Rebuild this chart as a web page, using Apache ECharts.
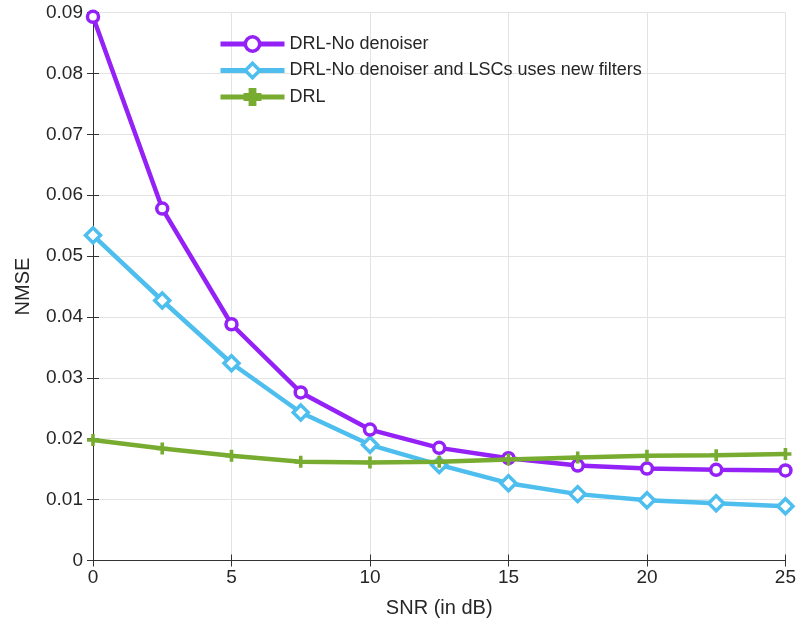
<!DOCTYPE html>
<html>
<head>
<meta charset="utf-8">
<script src="https://cdn.jsdelivr.net/npm/echarts@6/dist/echarts.min.js"></script>
<style>html,body{margin:0;padding:0;background:#fff}#c{width:799px;height:631px}</style>
</head>
<body>
<div id="c"></div>
<script>
const snr = [0, 2.5, 5, 7.5, 10, 12.5, 15, 17.5, 20, 22.5, 25];
const drlNoDenoiser = [0.0893, 0.0578, 0.0388, 0.0276, 0.0215, 0.0185, 0.0168, 0.0156, 0.0151, 0.0149, 0.0148];
const drlNoDenoiserNewFilters = [0.0534, 0.0427, 0.0324, 0.0243, 0.0190, 0.0157, 0.0127, 0.0109, 0.0099, 0.0094, 0.0089];
const drl = [0.0198, 0.0184, 0.0172, 0.0162, 0.0161, 0.0162, 0.0166, 0.0169, 0.0172, 0.0173, 0.0175];
const seriesNames = ['DRL-No denoiser', 'DRL-No denoiser and LSCs uses new filters', 'DRL'];

const pair = (ys) => snr.map((x, i) => [x, ys[i]]);
const font = 'Liberation Sans, Arial, sans-serif';
const txt = '#262626';
const plus = 'path://M3.5,0H6.5V3.5H10V6.5H6.5V10H3.5V6.5H0V3.5H3.5Z';

const chart = echarts.init(document.getElementById('c'));
chart.setOption({
  animation: false,
  backgroundColor: '#fff',
  grid: { left: 93, right: 12, top: 12.5, bottom: 70.5, containLabel: false },
  legend: {
    left: 213, top: 30, orient: 'vertical', itemWidth: 64, itemHeight: 18, itemGap: 8.5,
    textStyle: { fontFamily: font, fontSize: 18, color: txt },
    lineStyle: { width: 5 },
    itemStyle: { borderWidth: 3.5 },
    data: seriesNames
  },
  xAxis: [{
    type: 'value', min: 0, max: 25, interval: 5,
    name: 'SNR (in dB)', nameLocation: 'middle', nameGap: 38,
    nameTextStyle: { fontFamily: font, fontSize: 20, color: txt },
    axisLine: { lineStyle: { color: '#333', width: 1 } },
    axisTick: { inside: true, length: 6, lineStyle: { color: '#333' } },
    axisLabel: { fontFamily: font, fontSize: 19, color: txt, margin: 8 },
    splitLine: { show: true, lineStyle: { color: '#e3e3e3', width: 1 } }
  }, {
    type: 'value', min: 0, max: 25, interval: 5, position: 'top',
    axisLine: { show: true, lineStyle: { color: '#333', width: 1 } },
    axisTick: { show: true, inside: true, length: 6, lineStyle: { color: '#333' } },
    axisLabel: { show: false }, splitLine: { show: false }
  }],
  yAxis: [{
    type: 'value', min: 0, max: 0.09, interval: 0.01,
    name: 'NMSE', nameLocation: 'middle', nameGap: 60,
    nameTextStyle: { fontFamily: font, fontSize: 20, color: txt },
    axisLine: { show: true, lineStyle: { color: '#333', width: 1 } },
    axisTick: { show: true, inside: true, length: 6, lineStyle: { color: '#333' } },
    axisLabel: { fontFamily: font, fontSize: 19, color: txt, margin: 10,
      formatter: v => (Math.round(v * 100) / 100).toString() },
    splitLine: { show: true, lineStyle: { color: '#e3e3e3', width: 1 } }
  }, {
    type: 'value', min: 0, max: 0.09, interval: 0.01, position: 'right',
    axisLine: { show: true, lineStyle: { color: '#333', width: 1 } },
    axisTick: { show: true, inside: true, length: 6, lineStyle: { color: '#333' } },
    axisLabel: { show: false }, splitLine: { show: false }
  }],
  series: [{
    name: seriesNames[0], type: 'line', data: pair(drlNoDenoiser),
    symbol: 'circle', symbolSize: 11, showAllSymbol: true,
    lineStyle: { color: '#9421F5', width: 4.5 },
    itemStyle: { color: '#ffffff', borderColor: '#9421F5', borderWidth: 3.5 },
    z: 3
  }, {
    name: seriesNames[1], type: 'line', data: pair(drlNoDenoiserNewFilters),
    symbol: 'diamond', symbolSize: 15, showAllSymbol: true,
    lineStyle: { color: '#4DBEEE', width: 4.5 },
    itemStyle: { color: '#ffffff', borderColor: '#4DBEEE', borderWidth: 3.5 },
    z: 2
  }, {
    name: seriesNames[2], type: 'line', data: pair(drl),
    symbol: plus, symbolSize: 12, showAllSymbol: true,
    lineStyle: { color: '#77AC30', width: 4.5 },
    itemStyle: { color: '#77AC30', borderColor: '#77AC30', borderWidth: 0 },
    z: 4
  }]
});
</script>
</body>
</html>
